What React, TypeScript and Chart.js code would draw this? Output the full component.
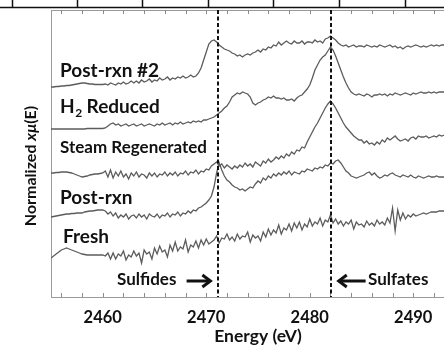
import React, { useEffect, useRef } from 'react';
import { Chart, registerables } from 'chart.js';
Chart.register(...registerables);

// Energy grid (eV)
const energies = [
  2455, 2455.25, 2455.5, 2455.75, 2456, 2456.25, 2456.5, 2456.75,
  2457, 2457.25, 2457.5, 2457.75, 2458, 2458.25, 2458.5, 2458.75,
  2459, 2459.25, 2459.5, 2459.75, 2460, 2460.25, 2460.5, 2460.75,
  2461, 2461.25, 2461.5, 2461.75, 2462, 2462.25, 2462.5, 2462.75,
  2463, 2463.25, 2463.5, 2463.75, 2464, 2464.25, 2464.5, 2464.75,
  2465, 2465.25, 2465.5, 2465.75, 2466, 2466.25, 2466.5, 2466.75,
  2467, 2467.25, 2467.5, 2467.75, 2468, 2468.25, 2468.5, 2468.75,
  2469, 2469.25, 2469.5, 2469.75, 2470, 2470.25, 2470.5, 2470.75,
  2471, 2471.25, 2471.5, 2471.75, 2472, 2472.25, 2472.5, 2472.75,
  2473, 2473.25, 2473.5, 2473.75, 2474, 2474.25, 2474.5, 2474.75,
  2475, 2475.25, 2475.5, 2475.75, 2476, 2476.25, 2476.5, 2476.75,
  2477, 2477.25, 2477.5, 2477.75, 2478, 2478.25, 2478.5, 2478.75,
  2479, 2479.25, 2479.5, 2479.75, 2480, 2480.25, 2480.5, 2480.75,
  2481, 2481.25, 2481.5, 2481.75, 2482, 2482.25, 2482.5, 2482.75,
  2483, 2483.25, 2483.5, 2483.75, 2484, 2484.25, 2484.5, 2484.75,
  2485, 2485.25, 2485.5, 2485.75, 2486, 2486.25, 2486.5, 2486.75,
  2487, 2487.25, 2487.5, 2487.75, 2488, 2488.25, 2488.5, 2488.75,
  2489, 2489.25, 2489.5, 2489.75, 2490, 2490.25, 2490.5, 2490.75,
  2491, 2491.25, 2491.5, 2491.75, 2492, 2492.25, 2492.5, 2492.75,
  2493,
];

// Stacked (offset) normalized spectra
const postRxn2 = [
  210, 210, 210.5, 210.5, 211, 211, 211.5, 211.5,
  212, 212.5, 213, 213.5, 214, 214, 213.5, 213,
  213, 212.5, 212.5, 212.5, 212.5, 213, 212, 214,
  213, 212, 214, 213, 215, 213, 214, 216,
  214, 216, 214, 217, 215, 216, 218, 215,
  217, 216, 219, 217, 218, 220, 217, 219,
  218, 220, 219, 221, 219, 220, 222, 220,
  221, 224, 229, 237, 245, 253, 256, 257,
  255, 252, 250, 248, 247, 246, 244, 243,
  241, 242, 240, 242, 243, 242, 244, 245,
  247, 245, 248, 247, 250, 249, 252, 251,
  255, 252, 254, 256, 254, 253, 256, 254,
  254, 256, 253, 255, 255, 254, 257, 255,
  256, 254, 258, 259, 261, 259, 257, 254,
  252, 251, 252, 250, 251, 252, 250, 251,
  251, 250, 252, 251, 250, 251, 250, 252,
  251, 250, 251, 252, 250, 251, 249, 250,
  248, 250, 251, 250, 251, 252, 251, 250,
  251, 250, 251, 252, 251, 252, 251, 252,
  252,
];

const h2Reduced = [
  168, 168, 168, 168, 168, 168, 168, 168,
  168, 168, 168, 168, 168, 168, 168.5, 168.5,
  168.5, 168.5, 168.5, 168.5, 168.5, 169, 171, 173,
  174, 172, 173, 171, 172, 173, 171, 172,
  173, 171, 172, 173, 171, 172, 173, 172,
  171, 173, 172, 174, 172, 173, 174, 172,
  174, 173, 175, 173, 174, 175, 174, 176,
  175, 176, 175, 177, 177, 178, 179, 180,
  182, 184, 186, 189, 191, 195, 200, 202,
  204, 203, 205, 204, 203, 200, 194, 192,
  194, 195, 197, 198, 200, 199, 201, 199,
  199, 198, 199, 197, 197, 198, 196, 199,
  201, 202, 205, 208, 212, 219, 227, 232,
  237, 240, 242, 246, 250, 247, 241, 234,
  227, 220, 214, 209, 205, 203, 202, 203,
  202, 201, 203, 202, 200, 202, 202, 203,
  202, 203, 201, 203, 202, 204, 203, 202,
  203, 204, 203, 202, 204, 203, 204, 205,
  204, 204, 205, 204, 205, 204, 205, 205,
  205,
];

const steamRegen = [
  124, 124, 124.5, 124.5, 125, 125, 125, 124.5,
  124, 123, 122, 121, 120, 120.5, 121, 122,
  122.5, 123, 123, 123.5, 124, 126, 120, 127,
  119, 125, 121, 126, 120, 123, 118, 124,
  121, 125, 120, 123, 122, 119, 124, 121,
  124, 120, 123, 122, 125, 121, 124, 122,
  125, 121, 124, 123, 126, 122, 125, 124,
  127, 123, 126, 125, 128, 127, 131, 133,
  135, 131, 133, 129, 132, 130, 128, 131,
  129, 132, 130, 134, 131, 133, 130, 135,
  133, 131, 136, 134, 138, 135, 137, 140,
  138, 141, 139, 143, 141, 145, 143, 147,
  146, 150, 149, 155, 160, 165, 170, 174,
  179, 184, 189, 193, 196, 193, 189, 184,
  179, 174, 170, 167, 164, 161, 159, 157,
  157, 154, 156, 153, 154, 152, 155, 153,
  157, 155, 159, 157, 159, 161, 158, 156,
  157, 158, 156, 159, 160, 158, 161, 160,
  160, 161, 159, 160, 161, 160, 162, 161,
  162,
];

const postRxn = [
  80, 80.5, 81, 81.5, 82, 82.5, 83, 83,
  83.5, 83.5, 84, 84, 84, 85, 85.5, 86,
  86, 86.5, 87, 87, 87, 86, 83, 85,
  81, 84, 79, 82, 80, 83, 78, 81,
  82, 79, 83, 80, 82, 78, 83, 81,
  80, 83, 79, 82, 81, 84, 80, 83,
  82, 85, 81, 84, 83, 86, 84, 87,
  86, 89, 90, 92, 94, 97, 101, 110,
  124, 134, 127, 121, 117, 115, 112, 110,
  109, 107, 108, 106, 108, 110, 109, 113,
  116, 114, 119, 117, 121, 119, 123, 121,
  124, 122, 125, 123, 126, 122, 125, 124,
  123, 126, 125, 128, 127, 126, 129, 128,
  130, 129, 132, 131, 134, 133, 136, 137,
  134, 130, 126, 124, 121, 120, 119, 120,
  121, 122, 124, 125, 122, 124, 121, 119,
  120, 122, 121, 123, 124, 122, 121, 120,
  122, 121, 120, 122, 120, 119, 121, 120,
  119, 120, 121, 120, 120, 121, 120, 120,
  120,
];

const fresh = [
  39, 41, 43, 45, 47, 48, 49, 48,
  47, 46, 45, 44, 43, 42.5, 42, 42,
  42, 42, 42, 42, 42, 41, 44, 38,
  44, 38, 43, 41, 46, 37, 42, 40,
  46, 41, 44, 34, 47, 43, 45, 38,
  49, 43, 51, 45, 47, 40, 52, 46,
  55, 46, 50, 48, 57, 45, 52, 50,
  56, 49, 57, 52, 58, 53, 55, 57,
  61, 54, 59, 58, 63, 57, 60, 56,
  63, 58, 61, 60, 65, 55, 62, 59,
  61, 56, 65, 60, 68, 62, 67, 64,
  72, 63, 69, 67, 73, 66, 74, 69,
  75, 67, 73, 70, 78, 71, 75, 73,
  79, 71, 77, 75, 82, 74, 78, 73,
  76, 71, 75, 73, 77, 68, 75, 72,
  73, 70, 76, 72, 74, 71, 77, 73,
  75, 72, 79, 74, 89, 66, 87, 77,
  84, 78, 82, 80, 83, 81, 82, 83,
  84, 83, 84, 85, 85, 85, 86, 86,
  86,
];

const seriesList = [postRxn2, h2Reduced, steamRegen, postRxn, fresh];
const seriesNames = ['Post-rxn #2', 'H2 Reduced', 'Steam Regenerated', 'Post-rxn', 'Fresh'];
const markerEnergies = [2471.1, 2482.05];
const xTickValues = [
  2456, 2458, 2460, 2462, 2464, 2466, 2468, 2470, 2472, 2474,
  2476, 2478, 2480, 2482, 2484, 2486, 2488, 2490, 2492, 2494,
];
const xTickLabels = [2460, 2470, 2480, 2490];

const FONT = 'Lato, "Open Sans", sans-serif';

const overlay = {
  id: 'overlay',
  afterDraw(chart: any) {
    const { ctx, chartArea: a, scales } = chart;
    const x = scales.x;
    const y = scales.y;
    ctx.save();
    // top frame
    ctx.strokeStyle = '#9a9a9a';
    ctx.lineWidth = 1;
    ctx.beginPath();
    ctx.moveTo(a.left, a.top + 0.5);
    ctx.lineTo(a.right, a.top + 0.5);
    ctx.stroke();
    // inward minor ticks (top and bottom)
    ctx.strokeStyle = '#8a8a8a';
    for (const t of x.ticks) {
      if (t.value <= x.min || t.value >= x.max) continue;
      const px = Math.round(x.getPixelForValue(t.value)) + 0.5;
      ctx.beginPath();
      ctx.moveTo(px, a.top);
      ctx.lineTo(px, a.top + 4);
      ctx.moveTo(px, a.bottom);
      ctx.lineTo(px, a.bottom - 4);
      ctx.stroke();
    }
    // dashed markers
    ctx.strokeStyle = '#111';
    ctx.lineWidth = 2;
    ctx.setLineDash([4, 2.5]);
    for (const e of markerEnergies) {
      const px = Math.round(x.getPixelForValue(e));
      ctx.beginPath();
      ctx.moveTo(px, a.top);
      ctx.lineTo(px, a.bottom);
      ctx.stroke();
    }
    ctx.setLineDash([]);

    // series labels
    ctx.fillStyle = '#111';
    ctx.textBaseline = 'alphabetic';
    ctx.textAlign = 'left';
    const P = (e: number, v: number) => [x.getPixelForValue(e), y.getPixelForValue(v)];
    const big = `bold 19px ${FONT}`;
    ctx.font = big;
    let [lx, ly] = P(2455.87, 220);
    ctx.fillText(seriesNames[0], lx, ly);
    [lx, ly] = P(2455.87, 184);
    ctx.fillText('H', lx, ly);
    const hw = ctx.measureText('H').width;
    ctx.font = `bold 12px ${FONT}`;
    ctx.fillText('2', lx + hw + 0.5, ly + 4);
    const tw = ctx.measureText('2').width;
    ctx.font = big;
    ctx.fillText('Reduced', lx + hw + tw + 5, ly);
    ctx.font = `bold 17px ${FONT}`;
    [lx, ly] = P(2455.87, 144);
    ctx.fillText(seriesNames[2], lx, ly);
    ctx.font = big;
    [lx, ly] = P(2455.87, 93);
    ctx.fillText(seriesNames[3], lx, ly);
    [lx, ly] = P(2456.16, 54);
    ctx.fillText(seriesNames[4], lx, ly);

    // Sulfides / Sulfates annotations
    ctx.font = `bold 17px ${FONT}`;
    [lx, ly] = P(2461.38, 12);
    ctx.fillText('Sulfides', lx, ly);
    [lx, ly] = P(2485.63, 12);
    ctx.fillText('Sulfates', lx, ly);
    const arrow = (e0: number, e1: number, v: number) => {
      const [x0, yy] = P(e0, v);
      const [x1] = P(e1, v);
      const dir = Math.sign(x1 - x0);
      ctx.strokeStyle = '#111';
      ctx.lineWidth = 3;
      ctx.beginPath();
      ctx.moveTo(x0, yy);
      ctx.lineTo(x1 - dir * 2, yy);
      ctx.stroke();
      ctx.beginPath();
      ctx.moveTo(x1 - dir * 8, yy - 6);
      ctx.lineTo(x1, yy);
      ctx.lineTo(x1 - dir * 8, yy + 6);
      ctx.stroke();
    };
    arrow(2468.1, 2470.4, 16);
    arrow(2485.4, 2482.8, 16);

    // y-axis title
    ctx.save();
    ctx.translate(36, 166);
    ctx.rotate(-Math.PI / 2);
    const parts: [string, string][] = [
      ['Normalized ', `bold 16px ${FONT}`],
      ['x\u03BC', `italic bold 16px ${FONT}`],
      ['(E)', `bold 16px ${FONT}`],
    ];
    let total = 0;
    for (const [s, f] of parts) { ctx.font = f; total += ctx.measureText(s).width; }
    let cx = -total / 2;
    for (const [s, f] of parts) {
      ctx.font = f;
      ctx.fillText(s, cx, 0);
      cx += ctx.measureText(s).width;
    }
    ctx.restore();

    ctx.restore();
  },
};

const strip = {
  id: 'strip',
  afterDraw(chart: any) {
    const ctx = chart.ctx;
    ctx.save();
    ctx.strokeStyle = '#111';
    ctx.lineWidth = 1.5;
    ctx.beginPath();
    ctx.moveTo(0, 7.5);
    ctx.lineTo(480, 7.5);
    for (const px of [12, 77, 142, 208, 273, 339, 405]) {
      ctx.moveTo(px + 0.5, 0);
      ctx.lineTo(px + 0.5, 7.5);
    }
    ctx.stroke();
    ctx.restore();
  },
};

export default function App() {
  const ref = useRef<HTMLCanvasElement>(null);
  useEffect(() => {
    if (!ref.current) return;
    const chart = new Chart(ref.current, {
      type: 'line',
      data: {
        datasets: seriesList.map((s, i) => ({
          label: seriesNames[i],
          data: energies.map((e, j) => ({ x: e, y: s[j] })),
          borderColor: '#5c5c5c',
          borderWidth: 1.3,
          pointRadius: 0,
          tension: 0,
          fill: false,
        })),
      },
      options: {
        responsive: false,
        maintainAspectRatio: false,
        devicePixelRatio: 1,
        animation: false,
        layout: { padding: { top: 10, right: 1, left: 0, bottom: 0 } },
        plugins: { legend: { display: false }, tooltip: { enabled: false } },
        scales: {
          x: {
            type: 'linear',
            min: 2455,
            max: 2495,
            grid: { display: false, drawTicks: false },
            border: { display: true, color: '#9a9a9a', width: 1 },
            afterBuildTicks: (s: any) => { s.ticks = xTickValues.map((v) => ({ value: v })); },
            ticks: {
              padding: 11,
              autoSkip: false,
              maxRotation: 0,
              color: '#111',
              font: { family: FONT, weight: 'bold', size: 16.5 },
              callback: (v: any) => (xTickLabels.includes(Number(v)) ? String(v) : ''),
            },
            title: {
              display: true,
              text: 'Energy (eV)',
              color: '#111',
              font: { family: FONT, weight: 'bold', size: 17.5 },
              padding: { top: 0, bottom: 1 },
            },
            afterFit: (s: any) => { s.height = 51; },
          },
          y: {
            min: 0,
            max: 287,
            grid: { display: false, drawTicks: false },
            border: { display: true, color: '#9a9a9a', width: 1 },
            ticks: { display: false },
            afterFit: (s: any) => { s.width = 51; },
          },
        },
      },
      plugins: [overlay, strip],
    } as any);
    return () => chart.destroy();
  }, []);
  return (
    <div style={{ position: 'fixed', left: 0, top: 0, width: 444, height: 348, overflow: 'hidden', background: '#fff' }}>
      <canvas ref={ref} width={466} height={348} style={{ display: 'block', width: 466, height: 348 }} />
    </div>
  );
}
